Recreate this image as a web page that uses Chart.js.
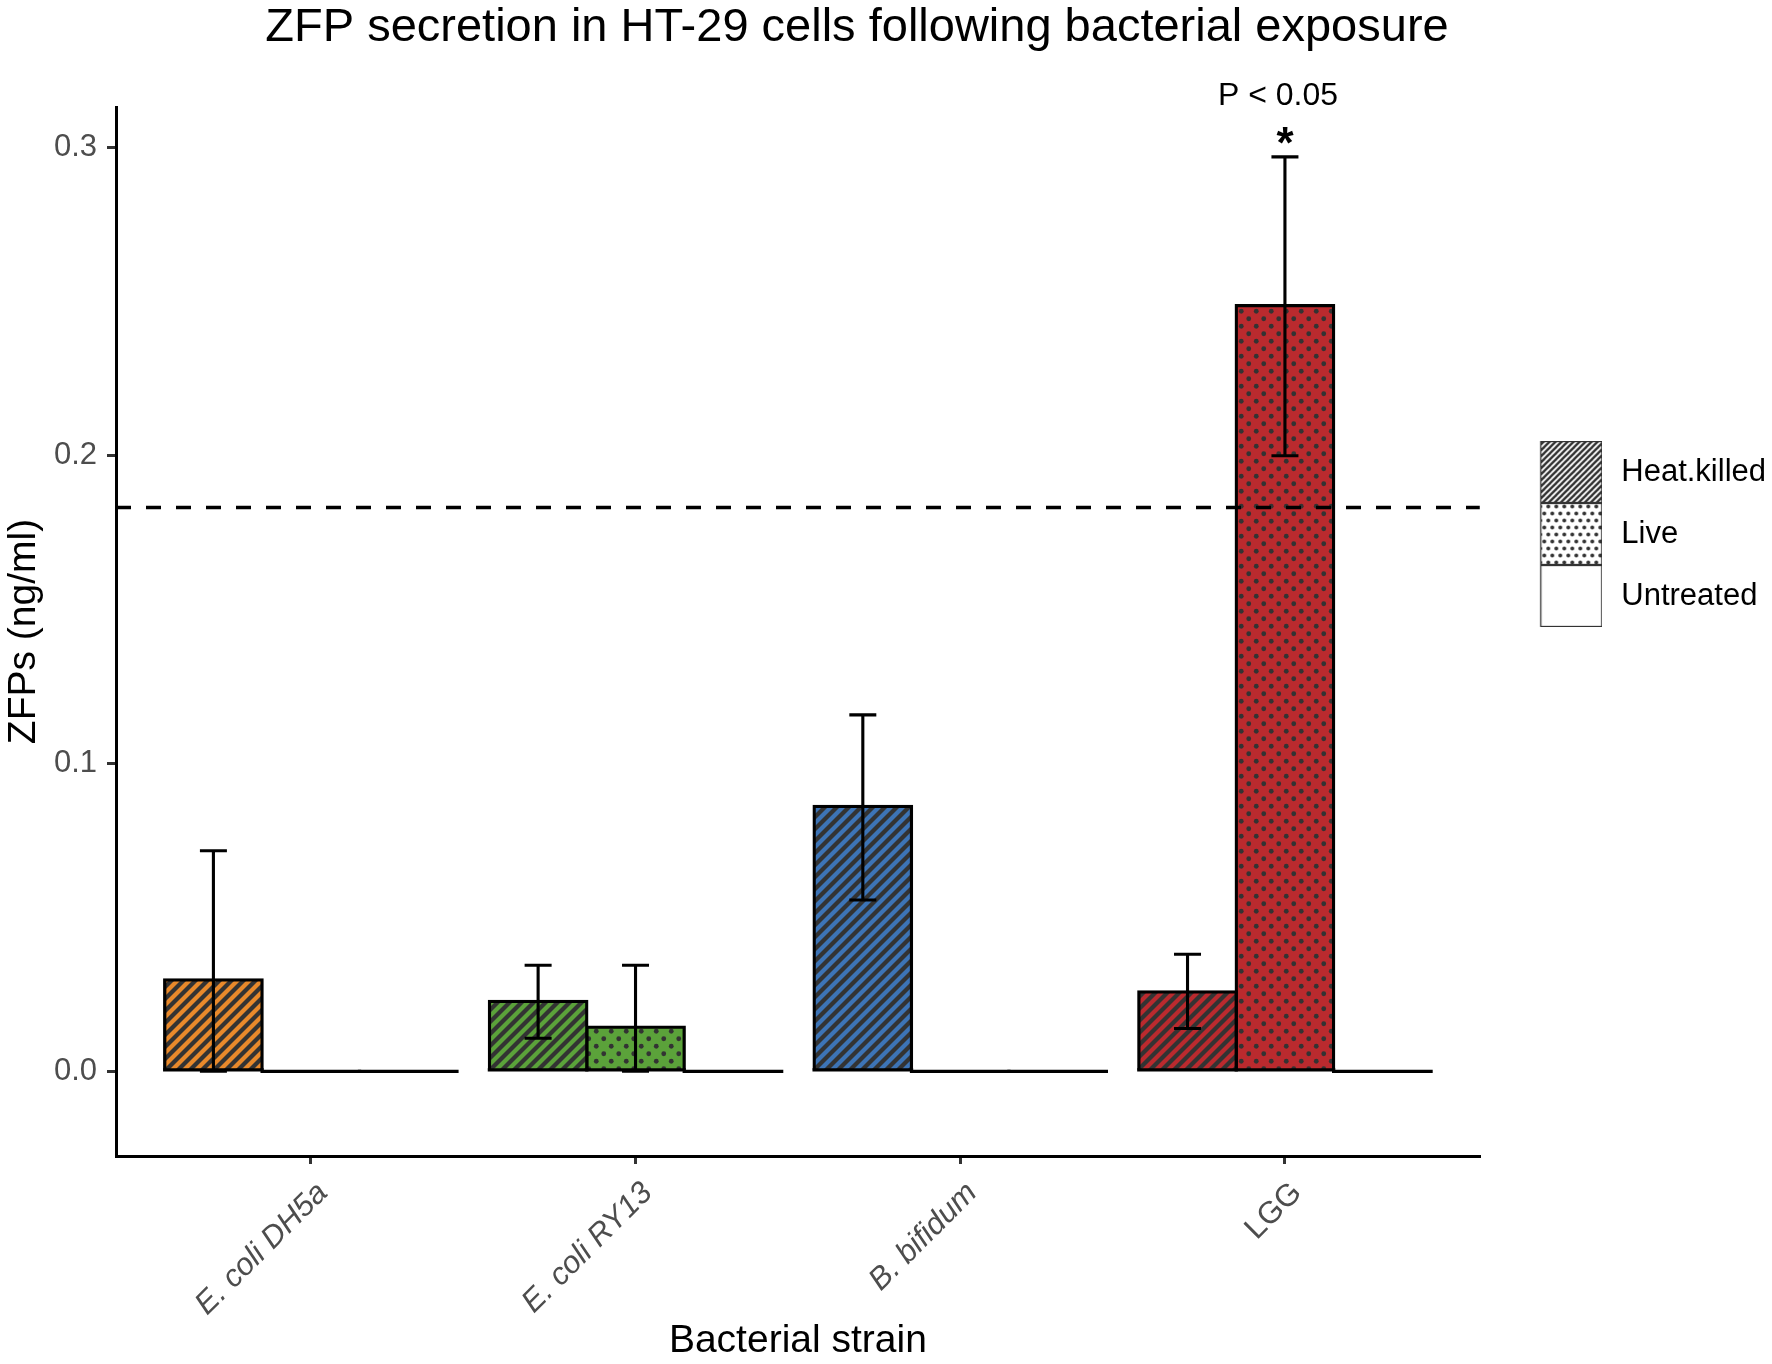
<!DOCTYPE html>
<html>
<head>
<meta charset="utf-8">
<script src="https://cdn.jsdelivr.net/npm/chart.js@4.4.1/dist/chart.umd.min.js"></script>
<style>
  html, body { margin: 0; padding: 0; background: #ffffff; }
  #wrap { width: 1772px; height: 1364px; }
</style>
</head>
<body>
<div id="wrap"><canvas id="c" width="1772" height="1364"></canvas></div>
<script>
// ---------- data ----------
const categories = ['E. coli DH5a', 'E. coli RY13', 'B. bifidum', 'LGG'];
const treatments = ['Heat.killed', 'Live', 'Untreated'];

const heatKilledMean = [0.0297, 0.0227, 0.0860, 0.0258];
const heatKilledLow  = [0.0000, 0.0107, 0.0556, 0.0139];
const heatKilledHigh = [0.0716, 0.0344, 0.1157, 0.0380];

const liveMean = [0, 0.0143, 0, 0.2485];
const liveLow  = [null, 0.0000, null, 0.1998];
const liveHigh = [null, 0.0344, null, 0.2968];

const untreatedMean = [0, 0, 0, 0];

const yTickValues = [0, 0.1, 0.2, 0.3];
const controlLevel = 0.183;          // dashed reference line
const significantIndex = 3;          // LGG, live
const significanceText = 'P < 0.05';
const significanceMark = '*';
const pLabelValue = 0.3137;

// ---------- styling ----------
const FONT = "'Liberation Sans', Arial, Helvetica, sans-serif";
Chart.defaults.font.family = FONT;
const strainColors = ['#E8892B', '#5BA23A', '#3D74B6', '#BA2A2E'];
const patternInk = '#333333';

function stripePattern(bg, fg, s, w) {
  const c = document.createElement('canvas');
  c.width = s; c.height = s;
  const g = c.getContext('2d');
  g.fillStyle = bg; g.fillRect(0, 0, s, s);
  g.strokeStyle = fg; g.lineWidth = w; g.lineCap = 'butt';
  for (let k = -1; k <= 1; k++) {
    g.beginPath();
    g.moveTo(k * s - 2, s + 2);
    g.lineTo(k * s + s + 2, -2);
    g.stroke();
  }
  return g.createPattern(c, 'repeat');
}
function dotPattern(bg, fg, w, h, r) {
  const c = document.createElement('canvas');
  c.width = w; c.height = h;
  const g = c.getContext('2d');
  g.fillStyle = bg; g.fillRect(0, 0, w, h);
  g.fillStyle = fg;
  [[w / 4, h / 4], [3 * w / 4, 3 * h / 4]].forEach(([x, y]) => {
    g.beginPath(); g.arc(x, y, r, 0, Math.PI * 2); g.fill();
  });
  return g.createPattern(c, 'repeat');
}

const stripeFills = strainColors.map(col => stripePattern(col, patternInk, 12, 4.2));
const dotFills = strainColors.map(col => dotPattern(col, patternInk, 15, 15, 2.4));

function legendImage(fill) {
  const c = document.createElement('canvas');
  c.width = 88; c.height = 62;
  const g = c.getContext('2d');
  g.fillStyle = fill; g.fillRect(26, 0, 62, 62);
  g.strokeStyle = '#333333'; g.lineWidth = 1.3;
  g.strokeRect(26.5, 0.5, 61, 61);
  return c;
}
const legendImages = [
  legendImage(stripePattern('#ffffff', patternInk, 6, 2.4)),
  legendImage(dotPattern('#ffffff', patternInk, 8, 14, 1.9)),
  legendImage('#ffffff')
];

// ---------- datasets ----------
const toPoints = arr => arr.map((v, i) => ({ x: i, y: v }));
const datasets = [
  { label: treatments[0], data: toPoints(heatKilledMean), backgroundColor: ctx => stripeFills[ctx.dataIndex] },
  { label: treatments[1], data: toPoints(liveMean), backgroundColor: ctx => dotFills[ctx.dataIndex] },
  { label: treatments[2], data: toPoints(untreatedMean), backgroundColor: '#ffffff' }
].map(d => Object.assign(d, {
  borderColor: '#000000', borderWidth: 3.3, borderSkipped: 'start', inflateAmount: 1.65,
  barPercentage: 1.0, categoryPercentage: 0.9
}));
const errorLow = [heatKilledLow, liveLow, null];
const errorHigh = [heatKilledHigh, liveHigh, null];

// ---------- plugins ----------
const decorPlugin = {
  id: 'decor',
  afterDatasetsDraw(chart) {
    const { ctx, chartArea, scales: { y } } = chart;
    ctx.save();
    ctx.strokeStyle = '#000000';
    ctx.lineCap = 'butt';
    // bottom edge of every bar (also draws zero-height bars)
    ctx.lineWidth = 3.3;
    chart.data.datasets.forEach((ds, d) => {
      chart.getDatasetMeta(d).data.forEach(el => {
        ctx.beginPath();
        ctx.moveTo(el.x - el.width / 2 - 1.65, el.base);
        ctx.lineTo(el.x + el.width / 2 + 1.65, el.base);
        ctx.stroke();
      });
    });
    // error bars
    ctx.lineWidth = 3.1;
    chart.data.datasets.forEach((ds, d) => {
      const lo = errorLow[d], hi = errorHigh[d];
      if (!lo) return;
      chart.getDatasetMeta(d).data.forEach((el, i) => {
        if (lo[i] == null || hi[i] == null) return;
        const yl = y.getPixelForValue(lo[i]);
        const yh = y.getPixelForValue(hi[i]);
        const cap = 13.5;
        ctx.beginPath();
        ctx.moveTo(el.x, yl); ctx.lineTo(el.x, yh);
        ctx.moveTo(el.x - cap, yh); ctx.lineTo(el.x + cap, yh);
        ctx.moveTo(el.x - cap, yl); ctx.lineTo(el.x + cap, yl);
        ctx.stroke();
      });
    });
    // dashed reference line
    const yc = y.getPixelForValue(controlLevel);
    ctx.setLineDash([15, 15]);
    ctx.lineWidth = 3.3;
    ctx.beginPath();
    ctx.moveTo(chartArea.left, yc); ctx.lineTo(chartArea.right, yc);
    ctx.stroke();
    ctx.restore();
  },
  afterDraw(chart) {
    const { ctx, scales: { y } } = chart;
    const el = chart.getDatasetMeta(1).data[significantIndex];
    ctx.save();
    ctx.fillStyle = '#000000';
    ctx.textAlign = 'center';
    ctx.textBaseline = 'alphabetic';
    ctx.font = 'bold 44px ' + FONT;
    ctx.fillText(significanceMark, el.x, y.getPixelForValue(liveHigh[significantIndex]) + 1);
    ctx.font = '32px ' + FONT;
    ctx.fillText(significanceText, el.x - 7, y.getPixelForValue(pLabelValue));
    ctx.restore();
  }
};

// ---------- chart ----------
new Chart(document.getElementById('c'), {
  type: 'bar',
  data: { datasets },
  options: {
    responsive: false,
    animation: false,
    devicePixelRatio: 1,
    layout: { padding: { left: -62, top: 0, bottom: 0, right: -4 } },
    plugins: {
      tooltip: { enabled: false },
      title: {
        display: true,
        text: 'ZFP secretion in HT-29 cells following bacterial exposure',
        color: '#000000',
        font: { size: 47, weight: 'normal', lineHeight: 1.0 },
        padding: { top: 5, bottom: 55 }
      },
      legend: {
        display: true,
        position: 'right',
        align: 'start',
        fullSize: false,
        title: { display: true, text: '', font: { size: 10, lineHeight: 1.2 }, padding: { top: 306.5, bottom: 0 } },
        labels: {
          usePointStyle: true,
          pointStyleWidth: 95,
          padding: 31,
          color: '#000000',
          font: { size: 31 },
          generateLabels: () => treatments.map((t, i) => ({
            text: t, pointStyle: legendImages[i], fillStyle: 'rgba(0,0,0,0)',
            strokeStyle: 'rgba(0,0,0,0)', lineWidth: 0, hidden: false, datasetIndex: i, fontColor: '#000000'
          }))
        },
        onClick: () => {}
      }
    },
    scales: {
      x: {
        type: 'linear',
        min: -0.6, max: 3.6,
        offset: false,
        afterBuildTicks: s => { s.ticks = categories.map((c, i) => ({ value: i })); },
        afterFit: s => { s.height = 208; },
        grid: { display: true, drawOnChartArea: false, drawTicks: true, tickLength: 8, color: '#333333', lineWidth: 3, offset: false },
        border: { display: true, color: '#000000', width: 3 },
        ticks: {
          autoSkip: false, minRotation: 45, maxRotation: 45, padding: 11, labelOffset: 12, color: '#4D4D4D',
          font: ctx => ({ family: FONT, size: 31, style: categories[ctx.index] === 'LGG' ? 'normal' : 'italic' }),
          callback: v => categories[v]
        },
        title: { display: true, text: 'Bacterial strain', color: '#000000', font: { size: 39, lineHeight: 1.15 }, padding: { top: 0, bottom: 0 } }
      },
      y: {
        type: 'linear',
        min: -0.0275, max: 0.313,
        afterBuildTicks: s => { s.ticks = yTickValues.map(v => ({ value: v })); },
        afterFit: s => { s.width = 178; },
        grid: { display: true, drawOnChartArea: false, drawTicks: true, tickLength: 9, color: '#333333', lineWidth: 3 },
        border: { display: true, color: '#000000', width: 3 },
        ticks: { padding: 10, color: '#4D4D4D', font: { size: 31 }, callback: v => v.toFixed(1) },
        title: { display: true, text: 'ZFPs (ng/ml)', color: '#000000', font: { size: 39, lineHeight: 1.2 }, padding: { top: 63, bottom: 0 } }
      }
    }
  },
  plugins: [decorPlugin]
});
</script>
</body>
</html>
